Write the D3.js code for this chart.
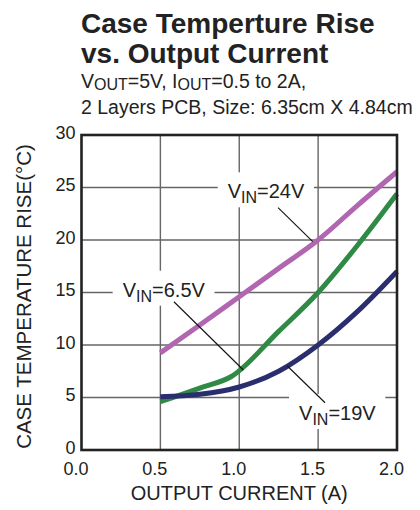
<!DOCTYPE html>
<html>
<head>
<meta charset="utf-8">
<script src="https://cdn.jsdelivr.net/npm/d3@7"></script>
<style>
  body { margin: 0; background: #fff; }
  text { font-family: "Liberation Sans", Arial, Helvetica, sans-serif; fill: #222; }
</style>
</head>
<body>
<svg id="chart"></svg>
<script>
// data
var currentA = [0.5, 0.75, 1.0, 1.25, 1.5, 1.75, 2.0];
var rise24V = [9.25, 11.9, 14.6, 17.3, 20.0, 23.3, 26.5];
var rise19V = [5.07, 5.3, 6.0, 7.5, 10.0, 13.2, 17.0];
var current65V = [0.5, 0.75, 0.95, 1.25, 1.5, 1.75, 2.0];
var rise65V = [4.6, 5.9, 7.0, 11.3, 15.0, 19.5, 24.4];

var xTicks = [0, 0.5, 1.0, 1.5, 2.0];
var yTicks = [0, 5, 10, 15, 20, 25, 30];

// callout labels and leader lines, in data units
var labelVolts = ["24V", "6.5V", "19V"];
var labelAt = [[0.927, 23.97], [0.261, 14.6], [1.379, 2.86]];
var leaderFrom = [[1.246, 23.08], [0.586, 14.12], [1.544, 4.5]];
var leaderTo = [[1.466, 19.84], [1.026, 7.62], [1.305, 8.0]];

var width = 420, height = 510;
var svg = d3.select("#chart").attr("width", width).attr("height", height);

var x = d3.scaleLinear().domain([0, 2]).range([81.5, 397]);
var y = d3.scaleLinear().domain([0, 30]).range([450, 135]);

// title block
svg.append("text").attr("x", 81).attr("y", 33)
    .style("font-weight", "bold").style("font-size", "28px")
    .text("Case Temperture Rise");
svg.append("text").attr("x", 81).attr("y", 63)
    .style("font-weight", "bold").style("font-size", "28px")
    .text("vs. Output Current");

var sub = svg.append("text").attr("x", 81).attr("y", 88).style("font-size", "19.5px");
sub.append("tspan").text("V");
sub.append("tspan").attr("dy", 2).style("font-size", "16px").text("OUT");
sub.append("tspan").attr("dy", -2).text("=5V, I");
sub.append("tspan").attr("dy", 2).style("font-size", "16px").text("OUT");
sub.append("tspan").attr("dy", -2).text("=0.5 to 2A,");

svg.append("text").attr("x", 81).attr("y", 114).style("font-size", "19.5px")
    .text("2 Layers PCB, Size: 6.35cm X 4.84cm");

// grid
var grid = svg.append("g").attr("stroke", "#666").attr("stroke-width", 1.4);
grid.selectAll("line.h")
    .data(yTicks.slice(1, -1))
    .enter().append("line")
    .attr("x1", x(0)).attr("x2", x(2))
    .attr("y1", function(d) { return y(d); })
    .attr("y2", function(d) { return y(d); });
grid.selectAll("line.v")
    .data(xTicks.slice(1, -1))
    .enter().append("line")
    .attr("y1", y(0)).attr("y2", y(30))
    .attr("x1", function(d) { return x(d); })
    .attr("x2", function(d) { return x(d); });

// curves
var line = d3.line()
    .x(function(d) { return x(d[0]); })
    .y(function(d) { return y(d[1]); })
    .curve(d3.curveMonotoneX);

var series = [
    { xs: currentA, ys: rise24V, color: "#b066b0" },
    { xs: current65V, ys: rise65V, color: "#2f8a45" },
    { xs: currentA, ys: rise19V, color: "#2a2d6e" }
];
series.forEach(function(s) {
    svg.append("path")
        .datum(d3.zip(s.xs, s.ys))
        .attr("fill", "none")
        .attr("stroke", s.color)
        .attr("stroke-width", 5)
        .attr("d", line);
});

// callouts: white box that breaks the grid, text, leader
labelVolts.forEach(function(v, i) {
    var g = svg.append("g");
    var box = g.append("rect").attr("fill", "#fff");
    var t = g.append("text")
        .attr("x", x(labelAt[i][0]))
        .attr("y", y(labelAt[i][1]))
        .style("font-size", "20px");
    t.append("tspan").text("V");
    t.append("tspan").attr("dy", 5).style("font-size", "16px").text("IN");
    t.append("tspan").attr("dy", -5).text("=" + v);
    var bb = t.node().getBBox();
    box.attr("x", bb.x - 10).attr("y", bb.y - 8)
        .attr("width", bb.width + 19).attr("height", bb.height + 9);
    svg.append("line")
        .attr("x1", x(leaderFrom[i][0])).attr("y1", y(leaderFrom[i][1]))
        .attr("x2", x(leaderTo[i][0])).attr("y2", y(leaderTo[i][1]))
        .attr("stroke", "#111").attr("stroke-width", 1.1);
});

// frame
svg.append("rect")
    .attr("x", x(0)).attr("y", y(30))
    .attr("width", x(2) - x(0)).attr("height", y(0) - y(30))
    .attr("fill", "none").attr("stroke", "#222").attr("stroke-width", 2.6);

// axes
var xAxis = svg.append("g")
    .attr("transform", "translate(0," + y(0) + ")")
    .call(d3.axisBottom(x).tickValues(xTicks).tickFormat(d3.format(".1f")).tickSize(0).tickPadding(12));
xAxis.select(".domain").remove();
xAxis.selectAll("text").attr("dx", -6).style("font-size", "18px").attr("fill", "#222");

var yAxis = svg.append("g")
    .attr("transform", "translate(" + x(0) + ",0)")
    .call(d3.axisLeft(y).tickValues(yTicks).tickSize(0).tickPadding(6));
yAxis.select(".domain").remove();
yAxis.selectAll("text").attr("dy", "0.18em").style("font-size", "18px").attr("fill", "#222");

svg.append("text")
    .attr("x", (x(0) + x(2)) / 2).attr("y", 500)
    .attr("text-anchor", "middle")
    .style("font-size", "20px")
    .text("OUTPUT CURRENT (A)");

svg.append("text")
    .attr("transform", "translate(31," + 296.5 + ") rotate(-90)")
    .attr("text-anchor", "middle")
    .style("font-size", "20.5px")
    .text("CASE TEMPERATURE RISE(°C)");
</script>
</body>
</html>
